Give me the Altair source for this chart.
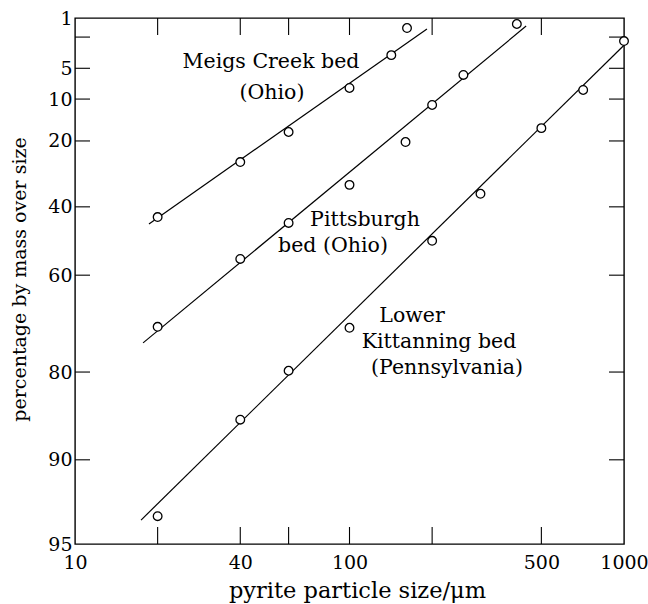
import math
import altair as alt
import pandas as pd

# ---- data ----
meigs_size = [20, 40, 60, 100, 142, 162]
meigs_pct = [43.2, 26.1, 17.6, 7.95, 3.5, 1.46]
pitt_size = [20, 40, 60, 100, 160, 200, 260, 407]
pitt_pct = [72.0, 55.6, 45.0, 33.1, 20.3, 11.2, 5.9, 1.26]
lk_size = [20, 40, 60, 100, 200, 300, 500, 710, 1000]
lk_pct = [93.7, 86.2, 79.8, 72.2, 50.4, 35.9, 16.6, 8.3, 2.28]

# fitted lines (end points)
meigs_line_size = [18.6, 191.5]
meigs_line_pct = [45.3, 1.51]
pitt_line_size = [17.7, 440]
pitt_line_pct = [75.1, 1.36]
lk_line_size = [17.4, 1000]
lk_line_pct = [93.9, 2.6]

y_label_values = [1, 5, 10, 20, 40, 60, 80, 90, 95]
y_tick_values = [2, 5, 10, 20, 40, 60, 80, 90]
x_label_values = [10, 40, 100, 500, 1000]
x_tick_values = [20, 40, 60, 100, 200, 500]
x_domain = [10, 1000]
y_domain_pct = [95, 1]


def rr(p):
    return math.log(math.log(100.0 / p))


FONT = "DejaVu Serif"
W, H = 549, 526
RR = "log(log(100/datum.pct))"

pts = pd.DataFrame(
    {
        "size": meigs_size + pitt_size + lk_size,
        "pct": meigs_pct + pitt_pct + lk_pct,
        "series": ["Meigs"] * len(meigs_size)
        + ["Pitt"] * len(pitt_size)
        + ["LK"] * len(lk_size),
    }
)
lines = pd.DataFrame(
    {
        "size": meigs_line_size + pitt_line_size + lk_line_size,
        "pct": meigs_line_pct + pitt_line_pct + lk_line_pct,
        "series": ["Meigs"] * 2 + ["Pitt"] * 2 + ["LK"] * 2,
    }
)

xscale = alt.Scale(type="log", domain=x_domain, nice=False)
yscale = alt.Scale(domain=[rr(y_domain_pct[0]), rr(y_domain_pct[1])], nice=False, zero=False)

x_axis = alt.Axis(
    values=x_label_values,
    format="d",
    ticks=False,
    domain=False,
    grid=False,
    labelFont=FONT,
    labelFontSize=19,
    labelColor="black",
    labelPadding=9,
    labelFlush=False,
    labelOverlap=False,
    title="pyrite particle size/\u03bcm",
    titleFont=FONT,
    titleFontSize=22.5,
    titleFontWeight="normal",
    titleColor="black",
    titleX=282,
    titleY=53,
    titleBaseline="alphabetic",
    titleAlign="center",
)
y_axis = alt.Axis(
    values=[rr(v) for v in y_label_values],
    labelExpr="format(100*exp(-exp(datum.value)), '.0f')",
    ticks=False,
    domain=False,
    grid=False,
    labelFont=FONT,
    labelFontSize=19,
    labelColor="black",
    labelPadding=3,
    labelFlush=False,
    labelOverlap=False,
    title="percentage by mass over size",
    titleFont=FONT,
    titleFontSize=19,
    titleFontWeight="normal",
    titleColor="black",
    titleAngle=270,
    titleX=-50,
    titleY=261,
    titleBaseline="alphabetic",
    titleAlign="center",
)

X = alt.X("size:Q", scale=xscale, axis=x_axis)
Y = alt.Y("rr:Q", scale=yscale, axis=y_axis)

line_layer = (
    alt.Chart(lines)
    .transform_calculate(rr=RR)
    .mark_line(color="black", strokeWidth=1.2)
    .encode(x=X, y=Y, detail="series:N")
)

point_layer = (
    alt.Chart(pts)
    .transform_calculate(rr=RR)
    .mark_point(shape="circle", filled=True, fill="white", stroke="black",
                strokeWidth=1.3, size=75, opacity=1)
    .encode(x=X, y=Y)
)

ytick_df = pd.DataFrame({"pct": y_tick_values})
xtick_df = pd.DataFrame({"size": x_tick_values})

ytick_left = (
    alt.Chart(ytick_df)
    .transform_calculate(rr=RR)
    .mark_rule(color="black", strokeWidth=1.1)
    .encode(y=Y, x=alt.value(0), x2=alt.value(15))
)
ytick_right = (
    alt.Chart(ytick_df)
    .transform_calculate(rr=RR)
    .mark_rule(color="black", strokeWidth=1.1)
    .encode(y=Y, x=alt.value(W - 15), x2=alt.value(W))
)
xtick_bottom = (
    alt.Chart(xtick_df)
    .mark_rule(color="black", strokeWidth=1.1)
    .encode(x=X, y=alt.value(H - 17), y2=alt.value(H))
)
xtick_top = (
    alt.Chart(xtick_df)
    .mark_rule(color="black", strokeWidth=1.1)
    .encode(x=X, y=alt.value(0), y2=alt.value(17))
)

# annotation text (pixel placement within plot area)
annotations = [
    ("Meigs Creek bed", 196, 50),
    ("(Ohio)", 197, 81),
    ("Pittsburgh", 290, 208),
    ("bed (Ohio)", 258, 234),
    ("Lower", 337, 304),
    ("Kittanning bed", 364, 330),
    ("(Pennsylvania)", 372, 356),
]
text_layers = []
for txt, tx, ty in annotations:
    text_layers.append(
        alt.Chart(pd.DataFrame({"t": [txt]}))
        .mark_text(font=FONT, fontSize=20.5, color="black", align="center", baseline="alphabetic")
        .encode(text="t:N", x=alt.value(tx), y=alt.value(ty))
    )

chart = (
    alt.layer(line_layer, ytick_left, ytick_right, xtick_bottom, xtick_top, point_layer, *text_layers)
    .properties(
        width=W,
        height=H,
        padding={"left": 75, "top": 18, "right": 24, "bottom": 60},
        autosize=alt.AutoSizeParams(type="none"),
        background="white",
    )
    .configure_view(stroke="black", strokeWidth=1.4)
)

chart.save("out.html", embed_options={"renderer": "svg", "actions": False})
